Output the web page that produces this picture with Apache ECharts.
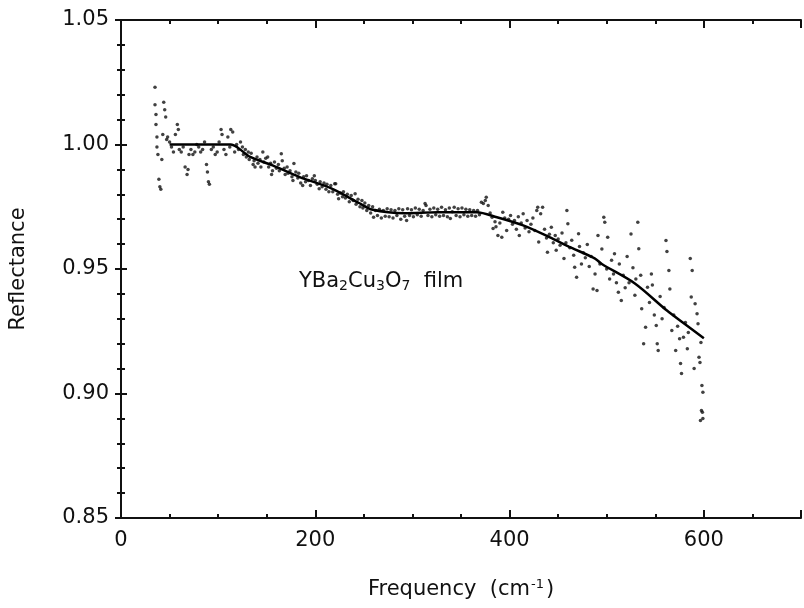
<!DOCTYPE html>
<html><head><meta charset="utf-8">
<script src="https://cdn.jsdelivr.net/npm/echarts@6/dist/echarts.min.js"></script>
<style>html,body{margin:0;padding:0;background:#fff}#c{width:804px;height:608px}</style>
</head><body><div id="c"></div>
<script>
// Smooth fitted curve
const lineFreq = [50, 80, 113, 120, 133, 156, 184, 217, 245, 258, 292, 326, 366, 387, 414, 441, 461, 488, 495, 529, 562, 580, 600];
const lineRefl = [1.000, 1.000, 1.000, 0.9988, 0.995, 0.9916, 0.9869, 0.9823, 0.9765, 0.9739, 0.9724, 0.9728, 0.9728, 0.9708, 0.9675, 0.9628, 0.959, 0.9542, 0.952, 0.9442, 0.9333, 0.928, 0.9222];

// Measured points (frequency, reflectance)
const dotFreq = [
35,35,36,36,37,37,38,39,40,41,42,43,44,45,46,47,48,50,52,54,56,58,59,60,62,64,66,68,69,70,72,74,76,78,80,82,84,86,88,89,90,91,93,95,97,99,101,103,104,106,108,110,112,113,115,117,119,121,123,
125,126,128,129,131,132,134,136,137,138,140,141,143,144,146,147,149,151,152,154,155,156,158,160,162,163,165,166,168,169,171,172,174,176,177,178,180,182,183,185,187,188,190,191,193,195,197,199,200,202,204,205,207,209,211,212,214,216,218,220,221,223,224,226,228,229,231,233,235,237,239,241,242,244,246,248,249,251,253,255,257,259,260,262,
264,266,268,270,272,274,276,278,280,282,284,286,288,290,292,294,295,297,299,301,303,305,307,309,311,313,314,316,318,320,322,324,326,328,330,332,334,336,338,339,341,343,345,347,349,351,353,355,357,359,361,363,365,367,369,371,373,375,376,378,380,382,383,385,386,
388,390,392,393,395,397,399,401,403,405,407,409,410,412,414,416,418,420,422,424,426,428,429,430,432,434,436,438,439,441,443,445,447,448,450,452,454,456,458,459,460,462,464,466,467,469,471,472,474,476,478,480,482,484,486,488,
490,491,493,495,497,498,500,501,503,505,507,508,510,512,513,515,517,519,521,523,525,527,529,530,532,533,535,536,538,540,542,544,546,547,549,551,552,553,555,557,559,561,562,564,565,567,569,571,573,575,576,577,579,581,583,584,586,587,588,590,591,593,594,595,596,597,598,599,597.5,598.5,596.5,599
];
const dotRefl = [
1.023,1.016,1.012,1.008,1.003,0.999,0.996,0.986,0.983,0.982,0.994,1.004,1.017,1.014,1.011,1.002,1.003,1.001,0.999,0.997,1.004,1.008,1.006,0.998,0.997,0.999,0.991,0.988,0.990,0.996,0.998,0.996,0.997,1.000,0.999,0.997,0.998,1.001,0.992,0.989,0.985,0.984,0.998,0.999,0.996,0.997,1.001,1.006,1.004,0.998,0.996,1.003,0.999,1.006,1.005,0.997,1.000,0.998,1.001,
0.999,0.996,0.998,0.995,0.997,0.994,0.9965,0.992,0.9935,0.991,0.995,0.9925,0.994,0.991,0.997,0.993,0.9945,0.995,0.991,0.9925,0.988,0.9895,0.993,0.9905,0.992,0.9895,0.9963,0.9935,0.9905,0.988,0.991,0.9885,0.9895,0.987,0.9855,0.9924,0.989,0.9865,0.9885,0.9845,0.9835,0.987,0.985,0.9875,0.9855,0.9835,0.9862,0.9875,0.9855,0.984,0.9822,0.985,0.983,0.9845,0.982,0.984,0.981,0.9835,0.981,0.9842,0.9842,0.980,0.9782,0.9805,0.979,0.981,0.9785,0.980,0.977,0.9795,0.9775,0.9802,0.976,0.978,0.975,0.9775,0.9745,0.9765,0.9735,0.9755,0.9725,0.975,0.9708,0.9735,
0.9715,0.974,0.9705,0.9735,0.9712,0.9742,0.971,0.9738,0.9705,0.9735,0.9715,0.9742,0.970,0.9738,0.9712,0.9695,0.9742,0.9715,0.9738,0.971,0.9745,0.9718,0.974,0.9712,0.9735,0.9763,0.9755,0.9715,0.974,0.971,0.9745,0.9718,0.974,0.9712,0.9748,0.9715,0.9738,0.971,0.9745,0.9703,0.973,0.9748,0.9715,0.9742,0.971,0.9745,0.9718,0.974,0.9712,0.9738,0.9715,0.9735,0.9712,0.9735,0.9718,0.9768,0.9763,0.9775,0.9788,0.9755,0.9725,0.9708,0.9663,0.969,0.967,
0.9635,0.9685,0.9628,0.9728,0.9705,0.9655,0.970,0.9715,0.968,0.9695,0.966,0.971,0.9635,0.9685,0.9722,0.9665,0.9695,0.965,0.968,0.9705,0.9655,0.9735,0.9748,0.9608,0.9722,0.9748,0.966,0.9625,0.9567,0.964,0.9668,0.9605,0.9635,0.9575,0.962,0.9595,0.9645,0.9542,0.9605,0.9735,0.9682,0.9585,0.9615,0.9555,0.9507,0.9467,0.9642,0.959,0.952,0.9565,0.9545,0.9598,0.951,0.955,0.942,0.948,
0.9414,0.9635,0.952,0.958,0.9708,0.9688,0.950,0.9628,0.946,0.9535,0.948,0.9561,0.9445,0.9407,0.952,0.9373,0.9475,0.9425,0.955,0.9445,0.9641,0.9505,0.9395,0.946,0.9688,0.9581,0.9475,0.934,0.920,0.9266,0.9427,0.9365,0.948,0.9436,0.9315,0.9273,0.920,0.9173,0.939,0.930,0.9345,0.9614,0.957,0.9494,0.942,0.9253,0.9315,0.9173,0.927,0.922,0.912,0.908,0.9226,0.9285,0.918,0.9245,0.9542,0.9388,0.9494,0.910,0.936,0.932,0.928,0.9146,0.9125,0.9205,0.9032,0.9005,0.8932,0.8925,0.8892,0.890
];

const xTicks = [0, 200, 400, 600];
const yTicks = [0.85, 0.90, 0.95, 1.00, 1.05];

const chart = echarts.init(document.getElementById('c'), null, {renderer: 'canvas'});
const FONT = 'DejaVu Sans';
const lineSeries = lineFreq.map((f, i) => [f, lineRefl[i]]);
const dotSeries = dotFreq.map((f, i) => [f, dotRefl[i]]);

const axisLine = {show: true, lineStyle: {color: '#111', width: 2}};
chart.setOption({
  animation: false,
  backgroundColor: '#fff',
  grid: {left: 119, right: 0, top: 20, bottom: 90},
  xAxis: [{
    type: 'value', min: 0, max: 700, interval: 200,
    axisLine: axisLine,
    axisTick: {inside: true, length: 8, lineStyle: {color: '#111', width: 2}},
    minorTick: {show: true, splitNumber: 4, length: 4, lineStyle: {color: '#111', width: 2}},
    splitLine: {show: false},
    axisLabel: {color: '#111', fontFamily: FONT, fontSize: 21, margin: 12,
      formatter: v => xTicks.includes(v) ? String(v) : ''},
    name: '{a|Frequency  (cm}{s|-1}{a|)}',
    nameLocation: 'middle', nameGap: 60,
    nameTextStyle: {rich: {
      a: {fontFamily: FONT, fontSize: 21, color: '#111'},
      s: {fontFamily: FONT, fontSize: 13, color: '#111', verticalAlign: 'top', padding: [0, 2, 10, 1]}
    }}
  }, {
    type: 'value', min: 0, max: 700, interval: 200, position: 'top',
    axisLine: axisLine,
    axisTick: {inside: true, length: 8, lineStyle: {color: '#111', width: 2}},
    minorTick: {show: true, splitNumber: 4, length: 4, lineStyle: {color: '#111', width: 2}},
    splitLine: {show: false}, axisLabel: {show: false}
  }],
  yAxis: [{
    type: 'value', min: 0.85, max: 1.05, interval: 0.05,
    axisLine: axisLine,
    axisTick: {inside: true, length: 6, lineStyle: {color: '#111', width: 2}},
    minorTick: {show: true, splitNumber: 5, length: 4, lineStyle: {color: '#111', width: 2}},
    splitLine: {show: false},
    axisLabel: {color: '#111', fontFamily: FONT, fontSize: 21, margin: 12,
      formatter: v => v.toFixed(2)},
    name: 'Reflectance', nameLocation: 'middle', nameGap: 92,
    nameTextStyle: {fontFamily: FONT, fontSize: 21, color: '#111'}
  }, {
    type: 'value', min: 0.85, max: 1.05, interval: 0.05, position: 'right',
    axisLine: axisLine,
    axisTick: {inside: true, length: 6, lineStyle: {color: '#111', width: 2}},
    minorTick: {show: true, splitNumber: 5, length: 4, lineStyle: {color: '#111', width: 2}},
    splitLine: {show: false}, axisLabel: {show: false}
  }],
  graphic: [{
    type: 'text', left: 299, top: 271,
    style: {
      text: '{a|YBa}{s|2}{a|Cu}{s|3}{a|O}{s|7}{a|  film}',
      rich: {
        a: {fontFamily: FONT, fontSize: 21, fill: '#111'},
        s: {fontFamily: FONT, fontSize: 14, fill: '#111', padding: [10, 0, 0, 0]}
      }
    }
  }],
  series: [{
    type: 'scatter', data: dotSeries, symbol: 'circle', symbolSize: 3.5,
    itemStyle: {color: '#111'}, silent: true
  }, {
    type: 'line', data: lineSeries, smooth: 0.3, showSymbol: false,
    lineStyle: {color: '#000', width: 2.5}, silent: true
  }]
});
</script>
</body></html>
